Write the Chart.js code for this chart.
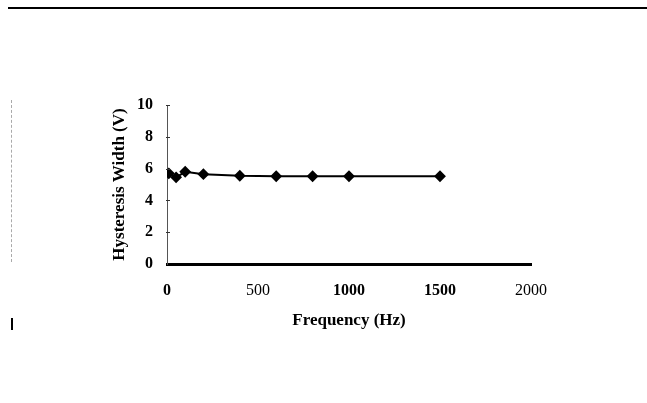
<!DOCTYPE html>
<html>
<head>
<meta charset="utf-8">
<script src="https://cdn.jsdelivr.net/npm/chart.js@4"></script>
<style>
  body { margin: 0; background: #fff; }
  #wrap { position: relative; width: 647px; height: 403px; }
  .rule { position: absolute; left: 8px; top: 7px; width: 639px; height: 2px; background: #000; }
  .scan { position: absolute; left: 11px; top: 100px; height: 162px; border-left: 1px dashed #aaa; }
  .mark { position: absolute; left: 11px; top: 318px; width: 2px; height: 12px; background: #000; }
  canvas { position: absolute; left: 0; top: 0; }
</style>
</head>
<body>
<div id="wrap">
  <canvas id="chart" width="647" height="403"></canvas>
  <div class="rule"></div>
  <div class="scan"></div>
  <div class="mark"></div>
</div>
<script>
const freqs = [10, 50, 100, 200, 400, 600, 800, 1000, 1500];
const widths = [5.7, 5.45, 5.8, 5.65, 5.55, 5.52, 5.52, 5.52, 5.52];
const xTicks = [0, 500, 1000, 1500, 2000];
const yTicks = [0, 2, 4, 6, 8, 10];

const serif = "'Liberation Serif', 'Times New Roman', serif";
const ctx = document.getElementById("chart").getContext("2d");

// small tick marks across the y axis line
const innerTicks = {
  id: "innerTicks",
  afterDraw(c) {
    const y = c.scales.y, g = c.ctx, x0 = c.chartArea.left;
    g.save();
    g.strokeStyle = "#333";
    g.lineWidth = 1;
    yTicks.slice(1).forEach(v => {
      const py = Math.round(y.getPixelForValue(v)) + 0.5;
      g.beginPath();
      g.moveTo(x0 - 1, py);
      g.lineTo(x0 + 3, py);
      g.stroke();
    });
    g.restore();
  }
};

new Chart(ctx, {
  type: "line",
  data: {
    datasets: [{
      data: freqs.map((f, i) => ({ x: f, y: widths[i] })),
      borderColor: "#000",
      backgroundColor: "#000",
      borderWidth: 2,
      pointStyle: "rectRot",
      pointRadius: 4.5,
      tension: 0
    }]
  },
  options: {
    responsive: false,
    animation: false,
    layout: { padding: { left: 107, top: 105, right: 116, bottom: 0 } },
    plugins: { legend: { display: false }, tooltip: { enabled: false } },
    scales: {
      x: {
        type: "linear",
        min: 0, max: 2000,
        afterFit: s => { s.height = 139; },
        afterBuildTicks: s => { s.ticks = xTicks.map(v => ({ value: v })); },
        grid: { drawOnChartArea: false, drawTicks: false },
        border: { color: "#000", width: 3 },
        ticks: {
          padding: 17,
          color: "#000",
          callback: v => String(v),
          font: c => ({ family: serif, size: 16,
            weight: (c.tick && (c.tick.value === 500 || c.tick.value === 2000)) ? "normal" : "bold" })
        },
        title: {
          display: true,
          text: "Frequency (Hz)",
          color: "#000",
          font: { family: serif, size: 17, weight: "bold" },
          padding: { top: 0, bottom: 72 }
        }
      },
      y: {
        min: 0, max: 10,
        afterFit: s => { s.width = 60; },
        afterBuildTicks: s => { s.ticks = yTicks.map(v => ({ value: v })); },
        grid: { drawOnChartArea: false, drawTicks: false },
        border: { color: "#555", width: 1, dash: [4, 2] },
        ticks: {
          padding: 14,
          color: "#000",
          callback: v => String(v),
          font: { family: serif, size: 16, weight: "bold" }
        },
        title: {
          display: true,
          text: "Hysteresis Width (V)",
          color: "#000",
          font: { family: serif, size: 17, weight: "bold" },
          padding: { top: 2, bottom: 0 }
        }
      }
    }
  },
  plugins: [innerTicks]
});
</script>
</body>
</html>
